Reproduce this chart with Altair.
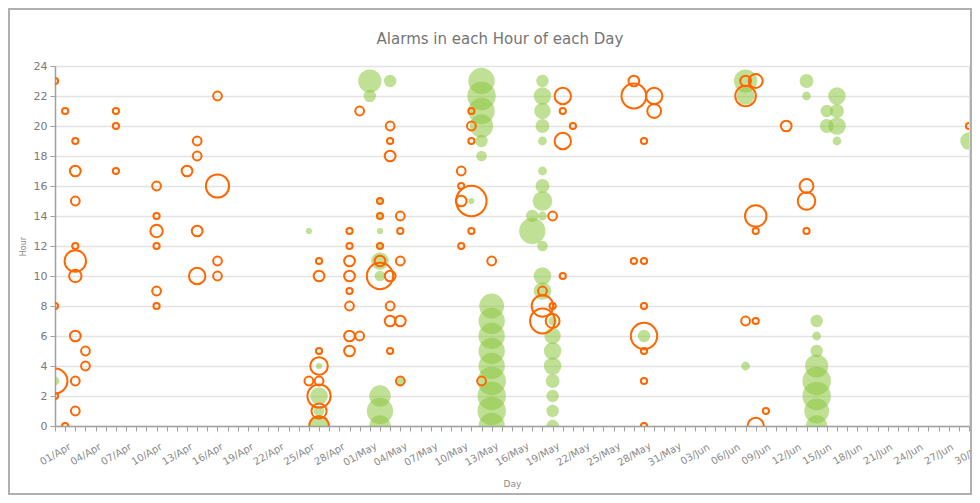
import altair as alt
import pandas as pd

# ---------------- data ----------------
# orange (hollow) series
o_date = [
    "2024-04-01", "2024-04-01", "2024-04-01", "2024-04-01",
    "2024-04-02", "2024-04-02",
    "2024-04-03", "2024-04-03", "2024-04-03", "2024-04-03", "2024-04-03",
    "2024-04-03", "2024-04-03", "2024-04-03", "2024-04-03",
    "2024-04-04", "2024-04-04",
    "2024-04-07", "2024-04-07", "2024-04-07",
    "2024-04-11", "2024-04-11", "2024-04-11", "2024-04-11", "2024-04-11", "2024-04-11",
    "2024-04-14",
    "2024-04-15", "2024-04-15", "2024-04-15", "2024-04-15",
    "2024-04-17", "2024-04-17", "2024-04-17", "2024-04-17",
    "2024-04-26",
    "2024-04-27", "2024-04-27", "2024-04-27", "2024-04-27",
    "2024-04-27", "2024-04-27", "2024-04-27", "2024-04-27",
    "2024-04-30", "2024-04-30", "2024-04-30", "2024-04-30",
    "2024-04-30", "2024-04-30", "2024-04-30", "2024-04-30",
    "2024-05-01", "2024-05-01",
    "2024-05-03", "2024-05-03", "2024-05-03", "2024-05-03", "2024-05-03",
    "2024-05-04", "2024-05-04", "2024-05-04", "2024-05-04",
    "2024-05-04", "2024-05-04", "2024-05-04",
    "2024-05-05", "2024-05-05", "2024-05-05", "2024-05-05", "2024-05-05",
    "2024-05-11", "2024-05-11", "2024-05-11", "2024-05-11",
    "2024-05-12", "2024-05-12", "2024-05-12", "2024-05-12", "2024-05-12",
    "2024-05-13",
    "2024-05-14",
    "2024-05-19", "2024-05-19", "2024-05-19",
    "2024-05-20", "2024-05-20", "2024-05-20",
    "2024-05-21", "2024-05-21", "2024-05-21", "2024-05-21",
    "2024-05-22",
    "2024-05-28", "2024-05-28", "2024-05-28",
    "2024-05-29", "2024-05-29", "2024-05-29", "2024-05-29",
    "2024-05-29", "2024-05-29", "2024-05-29",
    "2024-05-30", "2024-05-30",
    "2024-06-08", "2024-06-08", "2024-06-08",
    "2024-06-09", "2024-06-09", "2024-06-09", "2024-06-09", "2024-06-09",
    "2024-06-10",
    "2024-06-12",
    "2024-06-14", "2024-06-14", "2024-06-14",
    "2024-06-30",
]
o_hour = [
    23, 8, 3, 2,
    21, 0,
    19, 17, 15, 12, 11, 10, 6, 3, 1,
    5, 4,
    21, 20, 17,
    16, 14, 13, 12, 9, 8,
    17,
    19, 18, 13, 10,
    22, 16, 11, 10,
    3,
    11, 10, 5, 4, 3, 2, 1, 0,
    13, 12, 11, 10, 9, 8, 6, 5,
    21, 6,
    15, 14, 12, 11, 10,
    20, 19, 18, 10, 8, 7, 5,
    14, 13, 11, 7, 3,
    17, 16, 15, 12,
    21, 20, 19, 15, 13,
    3,
    11,
    9, 8, 7,
    14, 8, 7,
    22, 21, 19, 10,
    20,
    23, 22, 11,
    19, 11, 8, 6, 5, 3, 0,
    22, 21,
    23, 22, 7,
    23, 14, 13, 7, 0,
    1,
    20,
    16, 15, 13,
    20,
]
o_count = [
    1, 1, 16, 1,
    1, 1,
    1, 3, 2, 1, 12, 4, 3, 2, 2,
    2, 2,
    1, 1, 1,
    2, 1, 4, 1, 2, 1,
    3,
    2, 2, 3, 7,
    2, 14, 2, 2,
    2,
    1, 3, 1, 8, 2, 14, 6, 10,
    1, 1, 3, 3, 1, 2, 3, 3,
    2, 2,
    1, 1, 1, 3, 18,
    2, 1, 3, 3, 2, 3, 1,
    2, 1, 2, 3, 2,
    2, 1, 3, 1,
    1, 2, 1, 24, 1,
    2,
    2,
    2, 12, 16,
    2, 1, 5,
    7, 1, 7, 1,
    1,
    3, 16, 1,
    1, 1, 1, 18, 1, 1, 1,
    7, 5,
    3, 11, 2,
    5, 12, 1, 1, 7,
    1,
    3,
    5, 8, 1,
    1,
]

# green (filled) series
g_date = [
    "2024-04-01",
    "2024-04-26",
    "2024-04-27", "2024-04-27", "2024-04-27", "2024-04-27",
    "2024-05-02", "2024-05-02",
    "2024-05-03", "2024-05-03", "2024-05-03", "2024-05-03", "2024-05-03",
    "2024-05-03", "2024-05-03", "2024-05-03", "2024-05-03",
    "2024-05-04",
    "2024-05-05",
    "2024-05-12",
    "2024-05-13", "2024-05-13", "2024-05-13", "2024-05-13", "2024-05-13", "2024-05-13",
    "2024-05-14", "2024-05-14", "2024-05-14", "2024-05-14", "2024-05-14",
    "2024-05-14", "2024-05-14", "2024-05-14", "2024-05-14",
    "2024-05-18", "2024-05-18",
    "2024-05-19", "2024-05-19", "2024-05-19", "2024-05-19", "2024-05-19", "2024-05-19",
    "2024-05-19", "2024-05-19", "2024-05-19", "2024-05-19", "2024-05-19", "2024-05-19",
    "2024-05-20", "2024-05-20", "2024-05-20", "2024-05-20",
    "2024-05-20", "2024-05-20", "2024-05-20", "2024-05-20",
    "2024-05-29",
    "2024-06-08", "2024-06-08", "2024-06-08",
    "2024-06-14", "2024-06-14",
    "2024-06-15", "2024-06-15", "2024-06-15", "2024-06-15",
    "2024-06-15", "2024-06-15", "2024-06-15", "2024-06-15",
    "2024-06-16", "2024-06-16",
    "2024-06-17", "2024-06-17", "2024-06-17", "2024-06-17",
    "2024-06-30",
]
g_hour = [
    3,
    13,
    4, 2, 1, 0,
    23, 22,
    15, 14, 13, 12, 11, 10, 2, 1, 0,
    23,
    3,
    15,
    23, 22, 21, 20, 19, 18,
    8, 7, 6, 5, 4, 3, 2, 1, 0,
    14, 13,
    23, 22, 21, 20, 19, 17, 16, 15, 14, 12, 10, 9,
    7, 6, 5, 4, 3, 2, 1, 0,
    6,
    23, 22, 4,
    23, 22,
    7, 6, 5, 4, 3, 2, 1, 0,
    21, 20,
    22, 21, 20, 19,
    19,
]
g_count = [
    2,
    1,
    1, 8, 3, 12,
    14, 4,
    1, 1, 1, 1, 8, 3, 12, 18, 12,
    4,
    2,
    1,
    18, 21, 18, 14, 4, 3,
    16, 18, 18, 18, 18, 21, 21, 21, 18,
    4, 18,
    4, 8, 7, 5, 2, 2, 5, 10, 2, 3, 8, 8,
    2, 7, 8, 8, 5, 4, 4, 4,
    4,
    14, 8, 2,
    5, 2,
    4, 2, 4, 14, 21, 21, 16, 12,
    4, 5,
    8, 5, 8, 2,
    8,
]

# axis ticks: one per day, labels every third day
tick_days = pd.date_range("2024-04-01", "2024-06-30", freq="D", tz="UTC")
tick_ms = [int(t.timestamp() * 1000) for t in tick_days]
start_ms = tick_ms[0]
hour_ticks = list(range(0, 25, 2))

green_df = pd.DataFrame({"date": g_date, "hour": g_hour, "alarms": g_count})
orange_df = pd.DataFrame({"date": o_date, "hour": o_hour, "alarms": o_count})

FONT = "DejaVu Sans"
W, H = 914, 360

x_enc = alt.X(
    "date:T",
    scale=alt.Scale(
        type="utc",
        domain=[
            alt.DateTime(year=2024, month=4, date=1, utc=True),
            alt.DateTime(year=2024, month=6, date=30, utc=True),
        ],
        nice=False,
    ),
    axis=alt.Axis(
        values=tick_ms,
        labelExpr=f"(round((datum.value - {start_ms}) / 86400000) % 3 == 0) ? utcFormat(datum.value, '%d/%b') : ''",
        labelAngle=330,
        labelAlign="center",
        labelBaseline="middle",
        labelPadding=23,
        labelFontSize=10,
        labelColor="#8a8a8a",
        labelFont=FONT,
        labelOverlap=False,
        labelFlush=False,
        labelBound=False,
        tickSize=5,
        tickColor="#a0a0a0",
        domainColor="#a0a0a0",
        domainWidth=1.5,
        grid=False,
        title="Day",
        titleFont=FONT,
        titleFontSize=9,
        titleFontWeight="normal",
        titleColor="#8a8a8a",
        titleBaseline="middle",
        titleY=57,
    ),
)
y_enc = alt.Y(
    "hour:Q",
    scale=alt.Scale(domain=[0, 24], nice=False, zero=True),
    axis=alt.Axis(
        values=hour_ticks,
        labelFontSize=11,
        labelColor="#7a7a7a",
        labelFont=FONT,
        labelPadding=3,
        tickSize=5,
        tickColor="#a0a0a0",
        domainColor="#a0a0a0",
        domainWidth=1.5,
        gridColor="#e3e3e3",
        gridWidth=1.5,
        title="Hour",
        titleFont=FONT,
        titleFontSize=8,
        titleFontWeight="normal",
        titleColor="#8a8a8a",
        titleX=-32,
        titleY=H / 2,
        titleBaseline="middle",
    ),
)
size_enc = alt.Size(
    "alarms:Q",
    scale=alt.Scale(type="linear", domain=[0, 24], range=[0, 923], zero=True),
    legend=None,
)

green = (
    alt.Chart(green_df)
    .mark_circle(color="#8cc63f", opacity=0.55, clip=True)
    .encode(x=x_enc, y=y_enc, size=size_enc)
)
orange = (
    alt.Chart(orange_df)
    .mark_point(shape="circle", filled=False, color="#ff6600", strokeWidth=2,
                opacity=1, clip=True)
    .encode(x=x_enc, y=y_enc, size=size_enc)
)
frame = (
    alt.Chart(pd.DataFrame({"k": [0]}))
    .mark_rect(fillOpacity=0, stroke="#b0b0b0", strokeWidth=2, clip=False)
    .encode(x=alt.value(-46), x2=alt.value(W + 2), y=alt.value(-57), y2=alt.value(H + 68))
)

chart = (
    alt.layer(green, orange, frame)
    .properties(
        width=W,
        height=H,
        title=alt.TitleParams(
            "Alarms in each Hour of each Day",
            font=FONT,
            fontSize=15,
            fontWeight="normal",
            color="#757575",
            anchor="middle",
            baseline="bottom",
            dx=-12,
            dy=54,
            offset=0,
        ),
        autosize=alt.AutoSizeParams(type="none"),
        padding={"left": 47, "top": 58, "right": 3, "bottom": 69},
    )
    .configure_view(stroke=None)
    .configure(background="white")
)

chart.save("out.html", embed_options={"renderer": "svg", "actions": False})
